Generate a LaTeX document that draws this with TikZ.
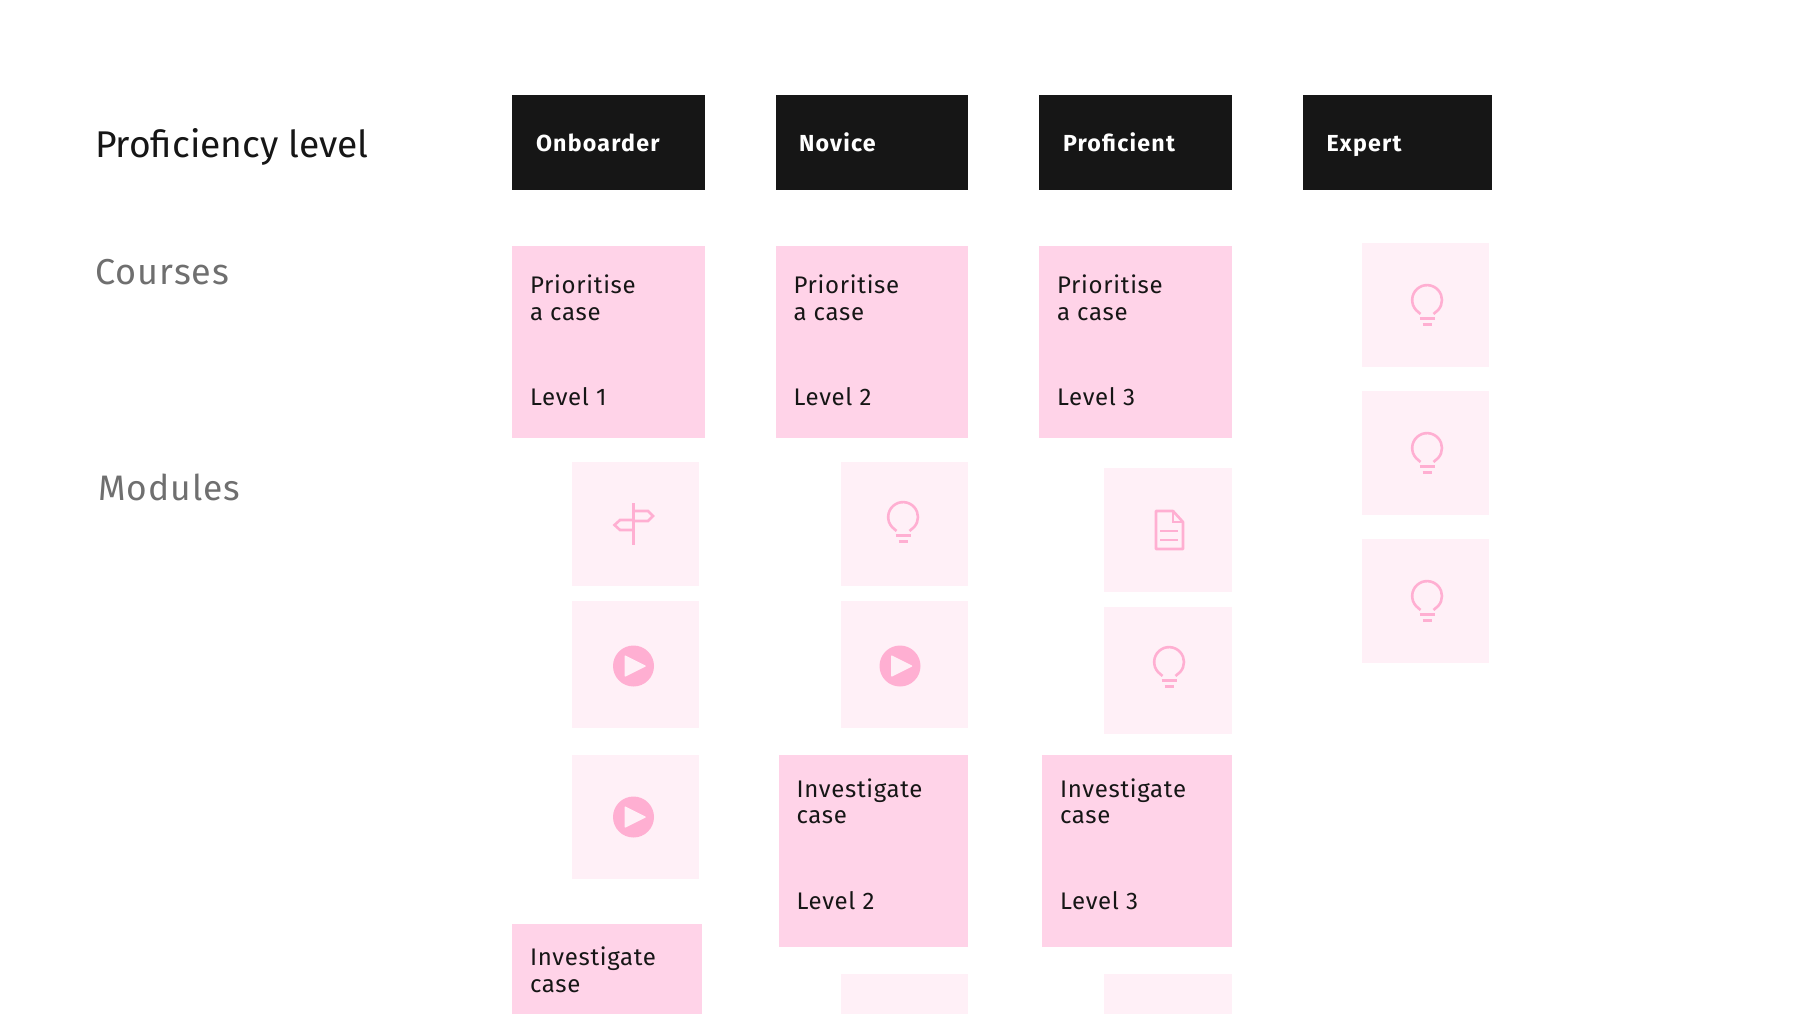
\documentclass[tikz,border=0pt]{standalone}
\usepackage{fontspec}
\setmainfont{Fira Sans}
\definecolor{ink}{HTML}{161616}
\definecolor{muted}{HTML}{6F6F6F}
\definecolor{cardpink}{HTML}{FFD3E8}
\definecolor{palepink}{HTML}{FFF0F7}
\definecolor{iconpink}{HTML}{FFAFD2}
\tikzset{
 label/.style={anchor=base west,inner sep=0pt,outer sep=0pt,font=\fontsize{#1}{#1}\selectfont\addfontfeatures{LetterSpace=3}},
 titletext/.style={anchor=base west,inner sep=0pt,outer sep=0pt,text=ink,font=\fontsize{18.6}{18.6}\selectfont},
 cardtext/.style={anchor=base west,inner sep=0pt,outer sep=0pt,text=ink,font=\fontsize{12}{12}\selectfont\addfontfeatures{LetterSpace=3}},
 headtext/.style={anchor=base west,inner sep=0pt,outer sep=0pt,text=white,font=\fontsize{11.6}{11.6}\selectfont\bfseries\addfontfeatures{LetterSpace=5.2}},
 iconline/.style={draw=iconpink,line width=1.3pt,fill=none},
}
\newcommand{\rectnode}[6]{\node[inner sep=0pt,outer sep=0pt,fill=#6,minimum width=#4*0.5pt-#2*0.5pt,minimum height=#5*0.5pt-#3*0.5pt] (#1) at ({(#2+#4)/2},{(#3+#5)/2}) {};}
\newcommand{\bulbicon}[3]{\begin{scope}[shift={(#2,#3)}]
\draw[iconline] (-6.5,14) -- (-11,10) arc[start angle=138,end angle=402,radius=14.9] -- (6.5,14);
\draw[iconline] (-7.5,18.5) -- (7.5,18.5) (-4.5,24.5) -- (4.5,24.5);
\end{scope}}
\newcommand{\playicon}[3]{\begin{scope}[shift={(#2,#3)}]
\node[circle,fill=iconpink,minimum size=20.5pt,inner sep=0pt] (#1) at (0,0) {};
\fill[palepink,rounded corners=0.5pt] (-9,-11) -- (13,0) -- (-9,11) -- cycle;
\end{scope}}
\begin{document}
\begin{tikzpicture}[x=0.5pt,y=-0.5pt]
\useasboundingbox (0,0) rectangle (1800,1013);
\clip (0,0) rectangle (1800,1013);
\fill[white] (0,0) rectangle (1800,1013);
% left labels
\node[titletext] (lprof) at (95,157) {Proficiency level};
\node[label=18,text=muted] (lcour) at (95,284) {Courses};
\node[label=17.7,text=muted] (lmod) at (98,500) {Modules};
% headers
\rectnode{h1}{512}{95}{705}{190}{ink}
\rectnode{h2}{776}{95}{968}{190}{ink}
\rectnode{h3}{1039}{95}{1232}{190}{ink}
\rectnode{h4}{1303}{95}{1492}{190}{ink}
\node[headtext] (ht1) at (536,151) {Onboarder};
\node[headtext] (ht2) at (799,151) {Novice};
\node[headtext] (ht3) at (1063,151) {Proficient};
\node[headtext] (ht4) at (1326.5,151) {Expert};
% course cards
\rectnode{c1}{512}{246}{705}{438}{cardpink}
\rectnode{c2}{776}{246}{968}{438}{cardpink}
\rectnode{c3}{1039}{246}{1232}{438}{cardpink}
\node[cardtext] (c1a) at (530,293) {Prioritise};
\node[cardtext] (c1b) at (530,320) {a case};
\node[cardtext] (c1c) at (530,405) {Level 1};
\node[cardtext] (c2a) at (793.5,293) {Prioritise};
\node[cardtext] (c2b) at (793.5,320) {a case};
\node[cardtext] (c2c) at (793.5,405) {Level 2};
\node[cardtext] (c3a) at (1057,293) {Prioritise};
\node[cardtext] (c3b) at (1057,320) {a case};
\node[cardtext] (c3c) at (1057,405) {Level 3};
% module cards
\rectnode{m2}{779}{755}{968}{947}{cardpink}
\rectnode{m3}{1042}{755}{1232}{947}{cardpink}
\rectnode{m1}{512}{924}{702}{1116}{cardpink}
\node[cardtext] (m2a) at (796.5,797) {Investigate};
\node[cardtext] (m2b) at (796.5,823) {case};
\node[cardtext] (m2c) at (796.5,909) {Level 2};
\node[cardtext] (m3a) at (1060,797) {Investigate};
\node[cardtext] (m3b) at (1060,823) {case};
\node[cardtext] (m3c) at (1060,909) {Level 3};
\node[cardtext] (m1a) at (530,965) {Investigate};
\node[cardtext] (m1b) at (530,992) {case};
% pale tiles
\rectnode{t11}{572}{462}{699}{586}{palepink}
\rectnode{t12}{572}{601}{699}{728}{palepink}
\rectnode{t13}{572}{755}{699}{879}{palepink}
\rectnode{t21}{841}{462}{968}{586}{palepink}
\rectnode{t22}{841}{601}{968}{728}{palepink}
\rectnode{t25}{841}{974}{968}{1098}{palepink}
\rectnode{t31}{1104}{468}{1232}{592}{palepink}
\rectnode{t32}{1104}{607}{1232}{734}{palepink}
\rectnode{t35}{1104}{974}{1232}{1098}{palepink}
\rectnode{t41}{1362}{243}{1489}{367}{palepink}
\rectnode{t42}{1362}{391}{1489}{515}{palepink}
\rectnode{t43}{1362}{539}{1489}{663}{palepink}
% icons
\draw[iconline] (633.5,503) -- (633.5,545);
\draw[iconline] (633.5,511) -- (648,511) -- (653,516) -- (648,521) -- (633.5,521);
\draw[iconline] (633.5,520) -- (620,520) -- (614.5,525) -- (620,530) -- (633.5,530);
\playicon{p1}{633.5}{666}
\playicon{p2}{633.5}{817}
\playicon{p3}{900}{666}
\bulbicon{b1}{903}{517}
\bulbicon{b2}{1169}{662}
\bulbicon{b3}{1427}{300}
\bulbicon{b4}{1427}{448}
\bulbicon{b5}{1427}{596}
% document
\draw[iconline,line join=round] (1156,511) -- (1173,511) -- (1183,522) -- (1183,549) -- (1156,549) -- cycle;
\draw[iconline] (1173,511) -- (1173,522) -- (1183,522);
\draw[iconline] (1160,531) -- (1178,531) (1160,540) -- (1178,540);
\end{tikzpicture}
\end{document}
